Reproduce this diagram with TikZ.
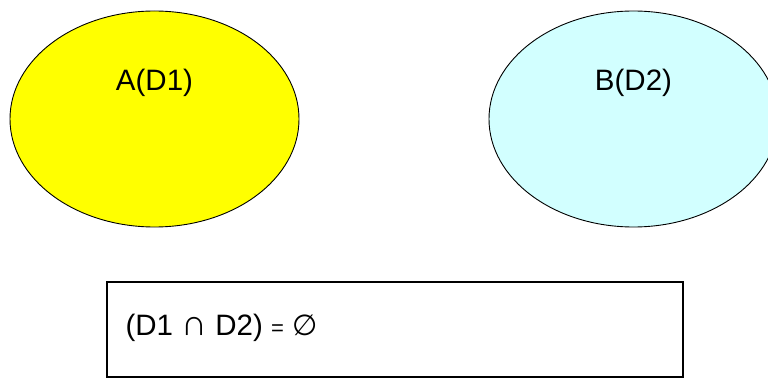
\documentclass[tikz,border=0pt]{standalone}
\usepackage{fontspec}
\setmainfont{Liberation Sans}
\newfontfamily\symfont{DejaVu Sans}
\usetikzlibrary{positioning,shapes.geometric}
\definecolor{setyellow}{RGB}{255,255,0}
\definecolor{setcyan}{RGB}{210,255,255}
\begin{document}
\begin{tikzpicture}[x=1pt,y=1pt,
  setshape/.style={ellipse,draw=black,line width=0.9pt,minimum width=289pt,minimum height=216pt,inner sep=0pt},
  setlabel/.style={font=\fontsize{29.5}{34}\selectfont,inner sep=0pt},
  resultbox/.style={rectangle,draw=black,line width=1.4pt,minimum width=576pt,minimum height=95pt,inner sep=0pt}]
  \useasboundingbox (0,0) rectangle (768,378); % page frame
  \node[setshape,fill=setyellow] (setA) at (154.5,259) {}; % left set
  \node[setshape,fill=setcyan] (setB) at (633.5,259) {}; % right set, cut by the page edge
  \node[setlabel] (labA) at ([yshift=36pt]setA.center) {A(D1)}; % name of the left set
  \node[setlabel] (labB) at ([yshift=36pt]setB.center) {B(D2)}; % name of the right set
  \node[resultbox] (result) at (395,48.5) {}; % frame of the statement
  \node[setlabel,anchor=west] (stmt) at ([xshift=19pt,yshift=1.5pt]result.west)
    {(D1 {\fontsize{36}{36}\selectfont ∩} D2) {\fontsize{22}{24}\selectfont =} {\symfont\fontsize{29}{32}\selectfont ∅}}; % empty intersection
\end{tikzpicture}
\end{document}
